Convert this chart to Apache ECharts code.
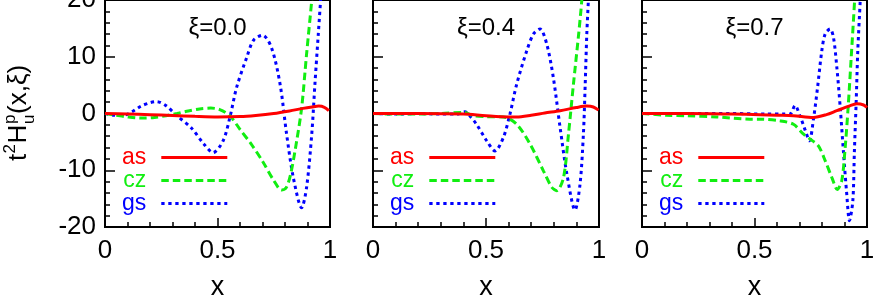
<!DOCTYPE html>
<html>
<head>
<meta charset="utf-8">
<script src="https://cdn.jsdelivr.net/npm/echarts@6/dist/echarts.min.js"></script>
<style>html,body{margin:0;padding:0;background:#fff;}#c{width:874px;height:300px;}</style>
</head>
<body>
<div id="c"></div>
<script>
// ---- data ----
const panelLabels = ['ξ=0.0', 'ξ=0.4', 'ξ=0.7'];
const seriesNames = ['as', 'cz', 'gs'];
const xTicks = [0, 0.5, 1];
const yTicks = [-20, -10, 0, 10, 20];

const as_xi00 = [[0,0],[0.1,-0.1],[0.2,-0.2],[0.3,-0.35],[0.4,-0.5],[0.5,-0.6],[0.6,-0.55],[0.67,-0.35],[0.75,0],[0.82,0.45],[0.88,0.9],[0.92,1.15],[0.95,1.3],[0.975,1.1],[0.995,0.5]];
const cz_xi00 = [[0,0],[0.05,-0.3],[0.1,-0.6],[0.16,-0.8],[0.22,-0.7],[0.27,-0.4],[0.32,0],[0.37,0.45],[0.42,0.8],[0.47,0.95],[0.51,0.7],[0.555,-0.4],[0.6,-2.8],[0.65,-5.4],[0.7,-8.4],[0.75,-11.8],[0.785,-13.5],[0.805,-13.1],[0.825,-10.7],[0.852,-4.8],[0.874,1],[0.896,10.5],[0.919,20],[0.94,30]];
const gs_xi00 = [[0,0],[0.04,-0.3],[0.08,-0.35],[0.12,0.3],[0.16,1.3],[0.2,1.9],[0.23,2.1],[0.27,1.4],[0.32,-0.4],[0.385,-2.6],[0.44,-5.4],[0.48,-6.9],[0.525,-4.8],[0.555,-0.7],[0.585,4.6],[0.63,9.9],[0.66,12.9],[0.70,13.8],[0.74,11.6],[0.778,5.2],[0.807,-3.6],[0.837,-11.3],[0.874,-16.6],[0.896,-13],[0.919,-3.6],[0.933,5.2],[0.948,14],[0.96,21],[0.975,30]];

const as_xi04 = [[0,0],[0.2,0],[0.4,-0.1],[0.5,-0.4],[0.6,-0.6],[0.635,-0.6],[0.7,-0.3],[0.76,0.1],[0.828,0.5],[0.9,1.05],[0.946,1.3],[0.975,1.15],[0.998,0.6]];
const cz_xi04 = [[0,0],[0.1,-0.1],[0.2,-0.1],[0.3,0],[0.4,0.2],[0.445,-0.4],[0.5,-0.55],[0.577,-0.6],[0.636,-1.9],[0.695,-5.4],[0.754,-10.1],[0.791,-13],[0.813,-13.6],[0.843,-11.3],[0.865,-3.6],[0.887,5.2],[0.91,14],[0.924,20],[0.94,29]];
const gs_xi04 = [[0,0],[0.1,-0.1],[0.2,0],[0.3,-0.1],[0.37,-0.1],[0.407,0.3],[0.43,-0.5],[0.458,-1.9],[0.503,-4.8],[0.54,-6.6],[0.577,-4.2],[0.606,-0.1],[0.636,5.2],[0.68,11],[0.71,14],[0.739,14.9],[0.769,12.2],[0.798,6.3],[0.828,-2.5],[0.858,-10.7],[0.894,-17],[0.916,-12.5],[0.931,-3.6],[0.939,5.2],[0.946,14],[0.953,20],[0.96,27]];

const as_xi07 = [[0,0],[0.2,0],[0.4,-0.1],[0.525,-0.2],[0.6,-0.3],[0.673,-0.4],[0.762,-0.7],[0.82,-0.2],[0.866,0.5],[0.92,1.3],[0.955,1.7],[0.985,1.5],[1.0,1.06]];
const cz_xi07 = [[0,0],[0.109,-0.3],[0.2,-0.4],[0.331,-0.6],[0.48,-1.0],[0.525,-1.0],[0.613,-1.3],[0.673,-1.9],[0.717,-3.6],[0.747,-4.5],[0.784,-5.7],[0.814,-8.3],[0.844,-11.3],[0.868,-13.4],[0.888,-11.8],[0.903,-6],[0.916,1],[0.93,10],[0.945,20],[0.958,30]];
const gs_xi07 = [[0,0],[0.2,0],[0.4,0],[0.55,-0.1],[0.63,-0.1],[0.658,-0.1],[0.68,1.4],[0.702,-0.4],[0.724,-2.8],[0.744,-4.8],[0.762,-1],[0.78,4.5],[0.799,11],[0.814,14],[0.836,14.9],[0.851,13.4],[0.866,8.1],[0.881,1.06],[0.895,-6.6],[0.91,-14.2],[0.922,-18.9],[0.937,-15.4],[0.944,-6.6],[0.952,2.2],[0.959,11],[0.97,20],[0.978,27]];

const panelData = [
  [as_xi00, cz_xi00, gs_xi00],
  [as_xi04, cz_xi04, gs_xi04],
  [as_xi07, cz_xi07, gs_xi07]
];

// ---- styles ----
const FONT = '"Liberation Sans", Arial, Helvetica, sans-serif';
const colors = ['#ff0000', '#11ee11', '#0000ff'];
const lineTypes = ['solid', [7.5, 4], [3.3, 3.7]];
const panelLeft = [105, 373, 642];
const panelWidth = [225, 226, 225];
const plotTop = 0, plotHeight = 227;

const grids = [], xAxes = [], yAxes = [], series = [], legends = [], graphics = [];
for (let p = 0; p < 3; p++) {
  grids.push({
    left: panelLeft[p], top: plotTop, width: panelWidth[p], height: plotHeight,
    show: true, borderColor: '#000', borderWidth: 2, backgroundColor: 'transparent',
    containLabel: false, outerBoundsMode: 'none'
  });
  xAxes.push({
    type: 'value', gridIndex: p, min: xTicks[0], max: xTicks[xTicks.length - 1], interval: 0.5,
    axisLine: { show: true, onZero: false, lineStyle: { color: '#000', width: 2 } },
    axisTick: { show: true, inside: true, length: 9, lineStyle: { color: '#000', width: 1.5 } },
    minorTick: { show: true, splitNumber: 5, length: 5, lineStyle: { color: '#000', width: 1.5 } },
    splitLine: { show: false }, minorSplitLine: { show: false },
    axisLabel: { show: true, color: '#000', fontSize: 26, fontFamily: FONT, margin: 11,
      formatter: v => String(v) },
    name: 'x', nameLocation: 'middle', nameGap: 47,
    nameTextStyle: { color: '#000', fontSize: 27, fontFamily: FONT }
  });
  yAxes.push({
    type: 'value', gridIndex: p, min: yTicks[0], max: yTicks[yTicks.length - 1], interval: 10,
    axisLine: { show: true, onZero: false, lineStyle: { color: '#000', width: 2 } },
    axisTick: { show: true, inside: true, length: 10, lineStyle: { color: '#000', width: 1.5 } },
    minorTick: { show: true, splitNumber: 5, length: 5, lineStyle: { color: '#000', width: 1.5 } },
    splitLine: { show: false }, minorSplitLine: { show: false },
    axisLabel: { show: p === 0, color: '#000', fontSize: 26, fontFamily: FONT, margin: 9,
      formatter: v => String(v) }
  });
  for (let s = 0; s < 3; s++) {
    series.push({
      type: 'line', name: seriesNames[s], xAxisIndex: p, yAxisIndex: p,
      data: panelData[p][s], showSymbol: false, symbol: 'none', smooth: 0.3,
      clip: true, z: 3 - s,
      lineStyle: { color: colors[s], width: 3, type: lineTypes[s], cap: 'butt' },
      itemStyle: { color: colors[s] }
    });
  }
  legends.push({
    show: true, orient: 'vertical', align: 'right',
    left: panelLeft[p] + 17, top: 146, padding: 0,
    itemWidth: 66, itemHeight: 10, itemGap: 0,
    selectedMode: false,
    data: seriesNames.map((n, i) => ({ name: n, textStyle: { color: colors[i] } })),
    textStyle: { fontSize: 23, fontFamily: FONT, padding: [0, 10, 0, 0], lineHeight: 23 },
    itemStyle: { opacity: 0 },
    lineStyle: { width: 3, type: 'inherit', opacity: 1 }
  });
  graphics.push({
    type: 'text',
    x: panelLeft[p] + panelWidth[p] / 2, y: 28,
    style: { text: panelLabels[p], font: '24px ' + FONT, fill: '#000',
      align: 'center', verticalAlign: 'middle' }
  });
}

// rotated y-axis title: t^2 H_u^p (x,ξ)
const F = 26, S = 17;
graphics.push({
  type: 'group', x: 19, y: 161, rotation: Math.PI / 2,
  children: [
    { type: 'text', style: { text: 't', x: 0, y: 0, font: F + 'px ' + FONT, fill: '#000', verticalAlign: 'middle' } },
    { type: 'text', style: { text: '2', x: 7.5, y: -9, font: S + 'px ' + FONT, fill: '#000', verticalAlign: 'middle' } },
    { type: 'text', style: { text: 'H', x: 17.5, y: 0, font: F + 'px ' + FONT, fill: '#000', verticalAlign: 'middle' } },
    { type: 'text', style: { text: 'u', x: 37, y: 10, font: S + 'px ' + FONT, fill: '#000', verticalAlign: 'middle' } },
    { type: 'text', style: { text: 'p', x: 37, y: -9, font: S + 'px ' + FONT, fill: '#000', verticalAlign: 'middle' } },
    { type: 'text', style: { text: '(x,ξ)', x: 47, y: 0, font: F + 'px ' + FONT, fill: '#000', verticalAlign: 'middle' } }
  ]
});

const chart = echarts.init(document.getElementById('c'), null, { renderer: 'canvas' });
chart.setOption({
  animation: false,
  backgroundColor: '#fff',
  grid: grids, xAxis: xAxes, yAxis: yAxes, series: series,
  legend: legends, graphic: graphics
});
</script>
</body>
</html>
